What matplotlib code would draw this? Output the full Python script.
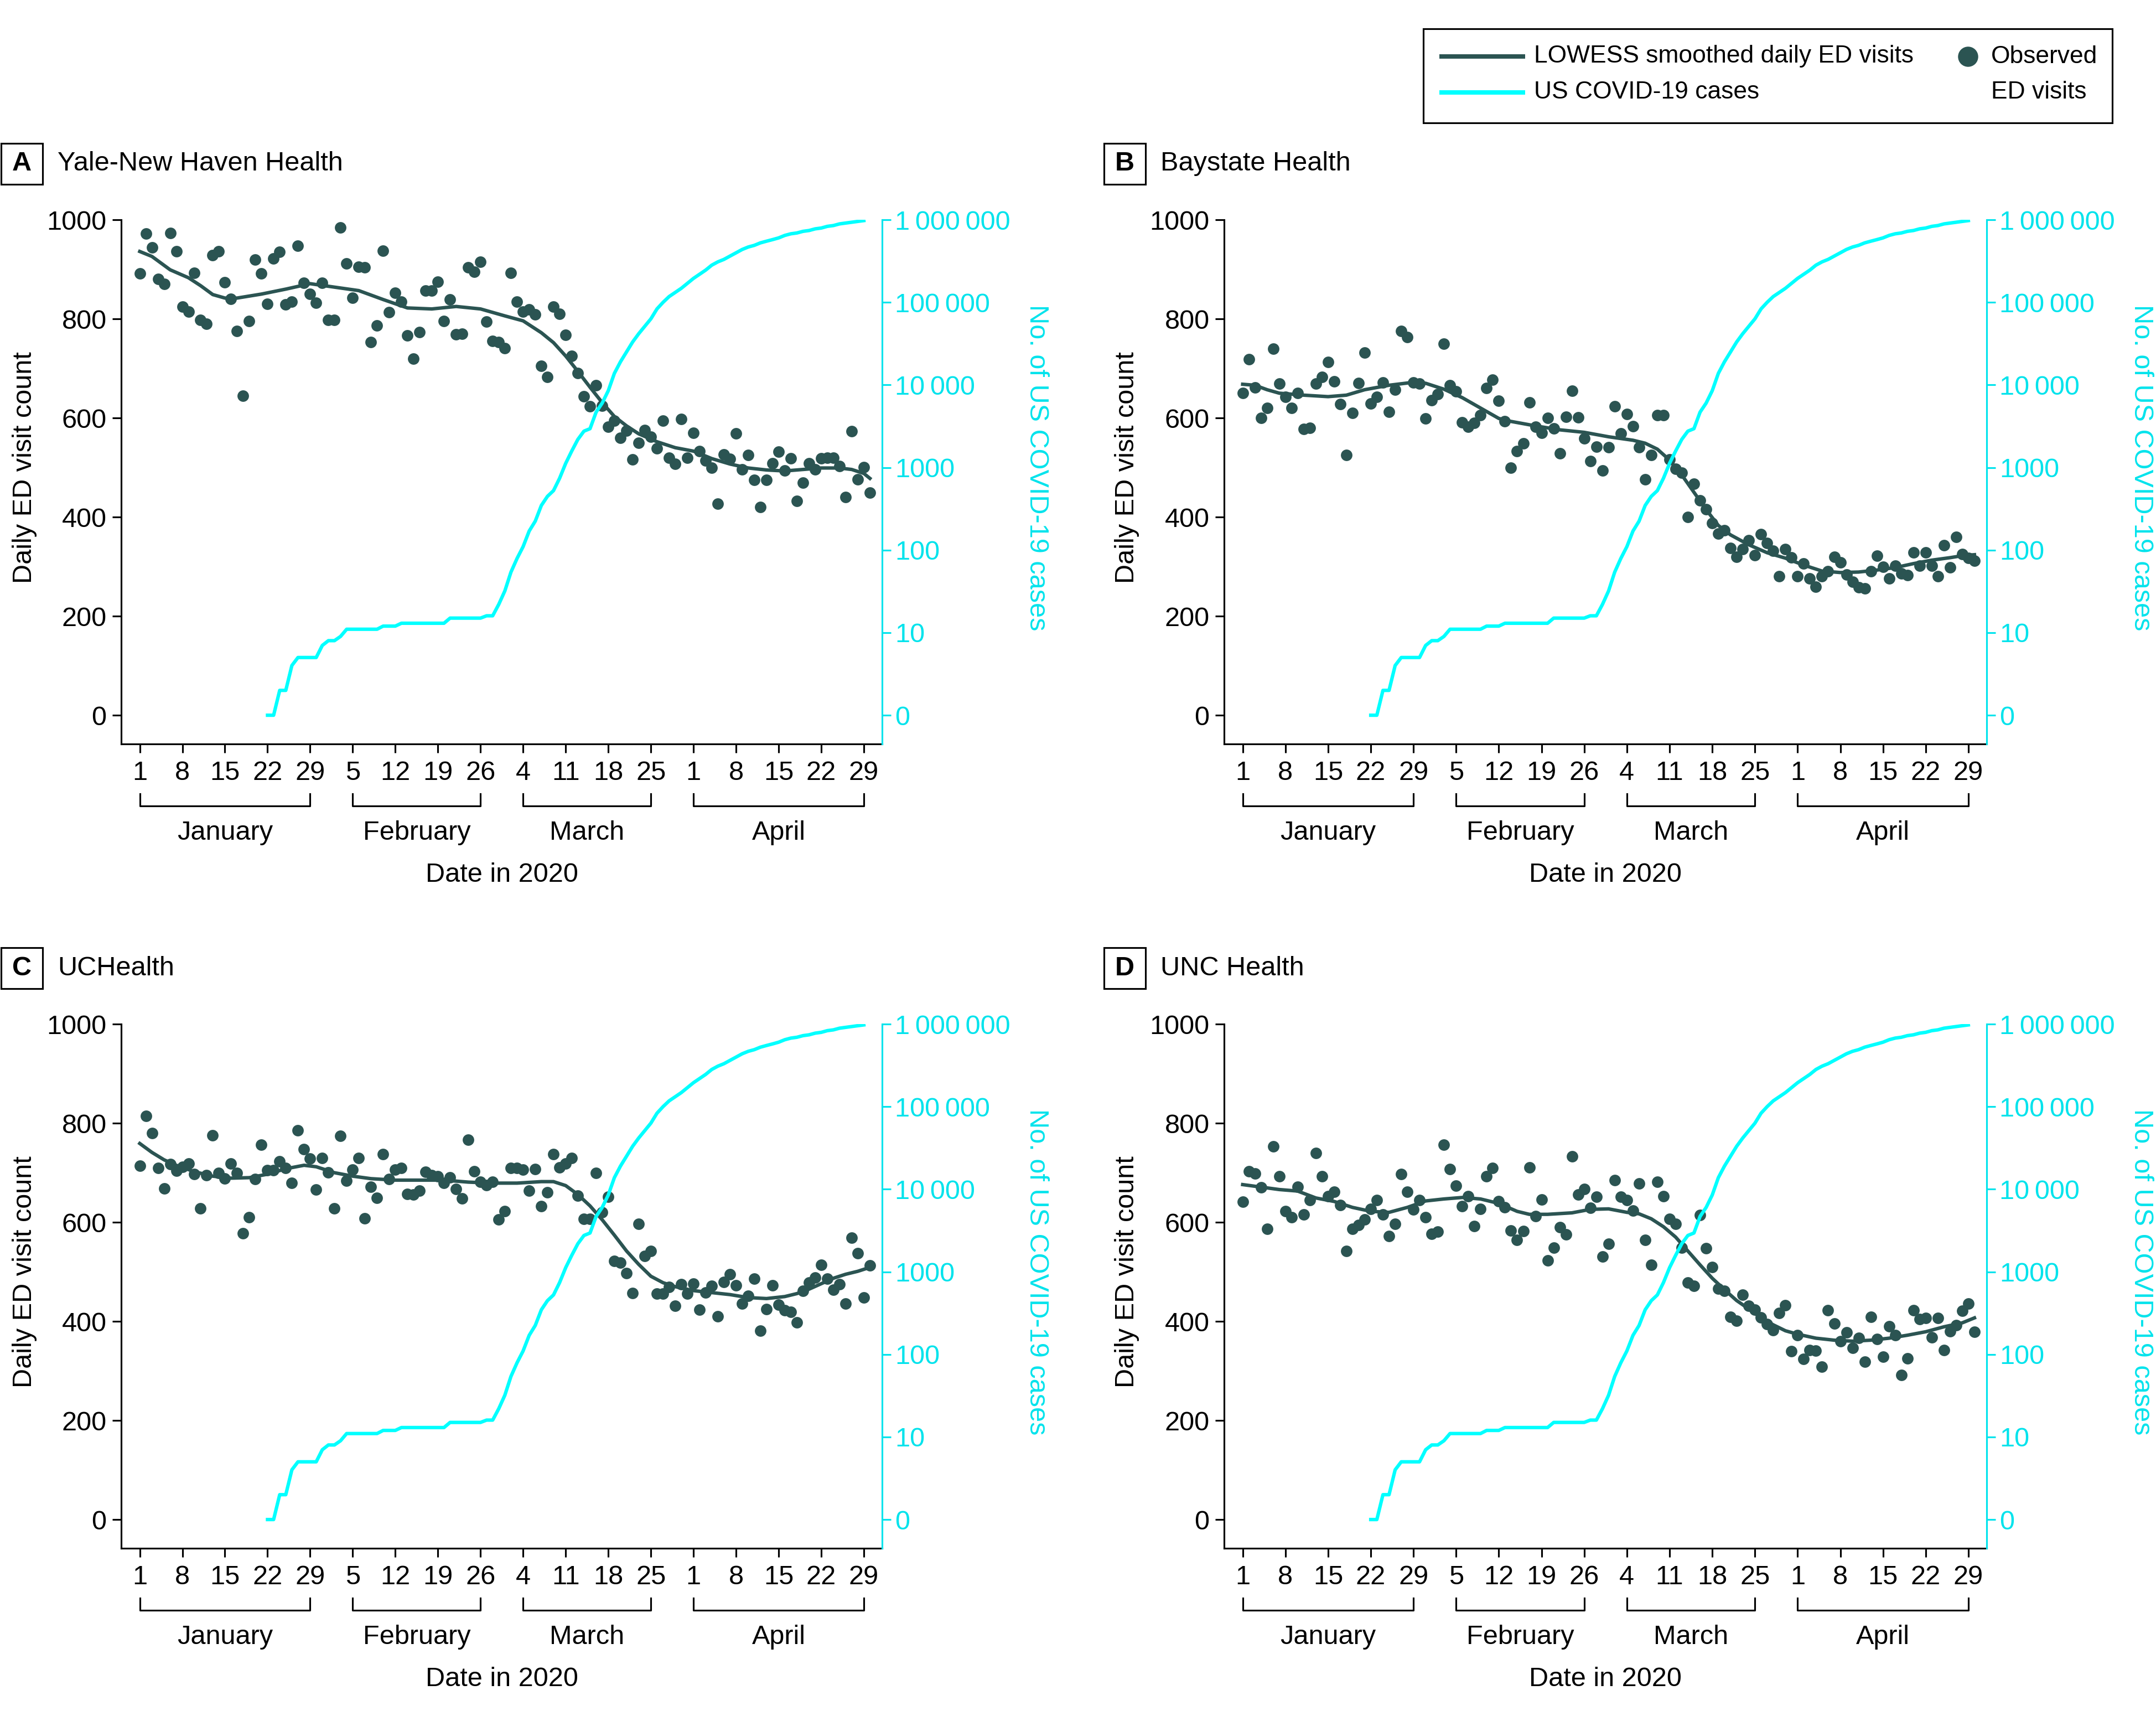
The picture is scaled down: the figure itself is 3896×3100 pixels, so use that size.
import numpy as np
import matplotlib
matplotlib.use("Agg")
import matplotlib.pyplot as plt
from matplotlib.lines import Line2D
from matplotlib.patches import Rectangle

plt.rcParams["font.family"] = ["Liberation Sans", "DejaVu Sans"]
plt.rcParams["font.size"] = 14

TEAL = "#2B5452"
CYAN = "#00FFFF"
CYAN_TXT = "#00E3EC"

# day index: 0 = Jan 1 2020 ... 120 = Apr 30 2020
days = np.arange(121)

yale_obs = [892, 972, 944, 881, 870, 973, 936, 825, 815, 893,
            798, 790, 928, 936, 874, 840, 775, 645, 796, 920,
            892, 830, 922, 935, 829, 835, 948, 873, 850, 832,
            873, 798, 798, 984, 912, 842, 905, 904, 753, 787,
            937, 813, 853, 835, 767, 720, 773, 857, 857, 875,
            795, 839, 769, 770, 904, 895, 915, 794, 755, 753,
            741, 893, 835, 815, 819, 809, 705, 683, 825, 810,
            768, 725, 690, 644, 624, 666, 625, 582, 594, 560,
            574, 516, 550, 575, 562, 539, 595, 520, 507, 598,
            520, 570, 533, 514, 499, 427, 526, 517, 569, 496,
            525, 475, 420, 475, 508, 532, 494, 519, 433, 469,
            508, 496, 519, 520, 520, 503, 440, 573, 476, 501,
            449]
baystate_obs = [650, 719, 661, 600, 620, 740, 669, 643, 620, 650,
                578, 580, 669, 683, 713, 674, 628, 525, 610, 670,
                732, 629, 643, 672, 612, 657, 775, 763, 672, 669,
                599, 636, 648, 750, 666, 654, 591, 582, 590, 606,
                660, 677, 635, 593, 500, 533, 549, 631, 582, 570,
                600, 579, 529, 602, 655, 601, 559, 513, 542, 494,
                541, 624, 569, 608, 583, 541, 476, 525, 606, 606,
                516, 497, 489, 400, 467, 434, 416, 388, 367, 373,
                337, 320, 335, 353, 323, 365, 347, 332, 280, 335,
                318, 280, 306, 276, 259, 280, 291, 320, 309, 284,
                269, 258, 256, 291, 322, 300, 276, 302, 286, 283,
                328, 302, 329, 302, 281, 343, 298, 360, 325, 317,
                312]
uchealth_obs = [714, 815, 780, 709, 668, 717, 704, 712, 718, 697,
                628, 695, 775, 700, 688, 719, 700, 578, 610, 687,
                757, 705, 705, 723, 709, 679, 786, 748, 729, 666,
                730, 701, 628, 774, 684, 706, 730, 608, 671, 649,
                737, 687, 706, 710, 657, 656, 664, 702, 695, 693,
                679, 690, 667, 648, 766, 703, 682, 675, 682, 606,
                622, 709, 709, 706, 664, 707, 632, 660, 737, 711,
                718, 730, 654, 607, 607, 699, 620, 651, 522, 519,
                497, 457, 597, 532, 542, 456, 456, 469, 431, 475,
                456, 476, 423, 458, 472, 410, 479, 495, 473, 436,
                452, 486, 381, 425, 473, 434, 422, 419, 398, 461,
                478, 488, 514, 486, 464, 475, 436, 569, 538, 448,
                513]
unc_obs = [641, 703, 698, 670, 587, 753, 693, 622, 610, 672,
           616, 645, 740, 693, 652, 661, 635, 542, 587, 594,
           606, 627, 645, 616, 572, 597, 697, 661, 626, 645,
           610, 577, 581, 757, 707, 674, 632, 653, 592, 627,
           693, 709, 642, 630, 583, 564, 582, 711, 612, 646,
           523, 549, 590, 576, 733, 656, 667, 629, 651, 531,
           557, 685, 651, 645, 624, 678, 564, 514, 682, 652,
           607, 597, 549, 478, 472, 615, 548, 509, 466, 461,
           409, 401, 454, 431, 423, 408, 395, 382, 417, 432,
           340, 372, 324, 342, 341, 308, 422, 396, 360, 378,
           346, 367, 319, 409, 364, 329, 390, 372, 292, 325,
           422, 405, 407, 368, 407, 342, 380, 392, 421, 436,
           379]

# LOWESS curves
yale_lw_days = [0, 2, 5, 8, 10, 12, 14, 16, 20, 24, 28, 32, 36, 40, 44, 48, 52, 56, 60, 63,
                66, 68, 70, 72, 74, 76, 78, 80, 82, 85, 88, 91, 94, 97, 100, 103, 106, 109,
                112, 115, 117, 119, 120]
yale_lw = [936, 926, 899, 883, 867, 849, 842, 842, 850, 860, 871, 864, 857, 839, 822, 820,
           825, 820, 806, 796, 772, 752, 725, 694, 662, 631, 603, 584, 568, 552, 540, 533,
           518, 507, 499, 495, 493, 496, 499, 499, 496, 488, 478]
baystate_lw_days = [0, 2, 4, 6, 10, 14, 17, 20, 24, 28, 30, 33, 36, 39, 42, 44, 48, 52, 56,
                    60, 64, 66, 68, 70, 72, 74, 76, 78, 80, 83, 86, 89, 92, 95, 98, 101, 104,
                    107, 110, 113, 116, 118, 120]
baystate_lw = [668, 666, 657, 650, 646, 643, 646, 657, 666, 672, 670, 658, 641, 620, 599, 593,
               584, 576, 571, 562, 555, 549, 537, 515, 485, 450, 415, 383, 364, 344, 328, 317,
               303, 291, 288, 289, 293, 298, 306, 313, 318, 322, 324]
uchealth_lw_days = [0, 2, 4, 6, 9, 12, 15, 18, 21, 24, 27, 29, 32, 35, 38, 42, 46, 50, 54, 58,
                    62, 66, 68, 70, 72, 74, 76, 78, 80, 82, 84, 86, 88, 91, 94, 97, 100, 103,
                    106, 108, 110, 112, 114, 116, 118, 120]
uchealth_lw = [759, 741, 726, 715, 702, 693, 689, 690, 697, 708, 715, 712, 700, 693, 688, 685,
               685, 685, 681, 679, 679, 682, 682, 674, 656, 633, 605, 574, 542, 515, 491, 478,
               470, 462, 458, 454, 448, 446, 450, 456, 465, 476, 487, 495, 501, 509]
unc_lw_days = [0, 3, 6, 9, 12, 15, 18, 21, 24, 27, 30, 33, 36, 39, 42, 45, 47, 50, 54, 57, 60,
               63, 65, 67, 69, 71, 73, 75, 77, 79, 81, 83, 85, 87, 89, 91, 94, 97, 100, 103,
               106, 109, 112, 115, 118, 120]
unc_lw = [676, 671, 666, 663, 649, 642, 630, 622, 620, 630, 643, 647, 650, 647, 638, 622, 616,
          616, 619, 626, 627, 620, 617, 607, 591, 570, 542, 514, 487, 464, 442, 425, 407, 393,
          381, 374, 366, 362, 360, 362, 366, 372, 379, 389, 397, 407]

# cumulative US COVID-19 cases, Jan 22 .. Apr 29
case_days = np.arange(21, 120)
us_cases = [1, 1, 2, 2, 4, 5, 5, 5, 5, 7,
            8, 8, 9, 11, 11, 11, 11, 11, 11, 12,
            12, 12, 13, 13, 13, 13, 13, 13, 13, 13,
            15, 15, 15, 15, 15, 15, 16, 16, 22, 32,
            54, 79, 110, 170, 224, 347, 447, 525, 741, 1122,
            1585, 2188, 2754, 2951, 4677, 6026, 8511, 13800, 19050, 25100,
            33100, 41700, 51300, 63100, 83200, 100000, 117500, 131800, 147900, 169800,
            195000, 218800, 245500, 281800, 309000, 331000, 363000, 398000, 436500, 467700,
            490000, 525000, 550000, 575000, 603000, 646000, 676000, 692000, 724000, 741000,
            776000, 794000, 832000, 851000, 891000, 912000, 933000, 955000, 977000]

tick_days = [0, 7, 14, 21, 28, 35, 42, 49, 56, 63, 70, 77, 84, 91, 98, 105, 112, 119]
tick_labels = ["1", "8", "15", "22", "29", "5", "12", "19", "26", "4", "11", "18", "25",
               "1", "8", "15", "22", "29"]
months = ["January", "February", "March", "April"]
month_spans = [(0, 28), (35, 56), (63, 84), (91, 119)]
case_tick_labels = ["0", "10", "100", "1000", "10\u2009000", "100\u2009000",
                    "1\u2009000\u2009000"]

W, H = 3896, 3100
fig = plt.figure(figsize=(W / 250, H / 250), dpi=250)


def rect(left, top, right, bottom):
    return [left / W, 1 - bottom / H, (right - left) / W, (bottom - top) / H]


def panel(box, letter, title, obs, lw_days, lw_vals):
    left, top, right, bottom = box
    ax = fig.add_axes(rect(left, top, right, bottom))
    ax2 = ax.twinx()

    ax.scatter(days, obs, s=36, color=TEAL, linewidths=0, zorder=3)
    ax.plot(lw_days, lw_vals, color=TEAL, lw=1.8, zorder=4)
    ax2.plot(case_days, np.log10(us_cases), color=CYAN, lw=1.8)

    ax.set_xlim(-3.05, 122.0)
    ax.set_ylim(-58, 1000)
    ax2.set_ylim(-0.348, 6)

    ax.set_yticks(range(0, 1001, 200))
    ax.set_xticks(tick_days)
    ax.set_xticklabels(tick_labels)
    ax2.set_yticks(range(7))
    ax2.set_yticklabels(case_tick_labels)

    for s in ("top", "right"):
        ax.spines[s].set_visible(False)
    for s in ("top", "left", "bottom"):
        ax2.spines[s].set_visible(False)
    for s in ("left", "bottom"):
        ax.spines[s].set_linewidth(0.9)
    ax2.spines["right"].set_color(CYAN_TXT)
    ax2.spines["right"].set_linewidth(0.9)

    ax.tick_params(axis="y", direction="out", length=4.6, width=0.9, pad=3)
    ax.tick_params(axis="x", direction="out", length=4.6, width=0.9, pad=4)
    ax2.tick_params(axis="y", direction="out", length=4.6, width=0.9, pad=2,
                    colors=CYAN_TXT)

    ax.set_ylabel("Daily ED visit count", va="center")
    ax.yaxis.set_label_coords(-0.127, 0.527)
    ax2.set_ylabel("No. of US COVID-19 cases", rotation=270, va="center", color=CYAN_TXT)
    ax2.yaxis.set_label_coords(1.203, 0.527)
    ax.set_xlabel("Date in 2020", va="center")
    ax.xaxis.set_label_coords(0.5, -0.25)

    tr = ax.get_xaxis_transform()
    for name, (d0, d1) in zip(months, month_spans):
        ax.plot([d0, d0, d1, d1], [-0.095, -0.118, -0.118, -0.095], color="black",
                lw=0.9, transform=tr, clip_on=False)
        ax.text((d0 + d1) / 2, -0.169, name, transform=tr, ha="center", va="center")

    # panel letter box and title
    bx, by = left - 217, top - 138
    fig.add_artist(Rectangle((bx / W, 1 - (by + 74) / H), 75 / W, 74 / H,
                             transform=fig.transFigure, fill=False, ec="black", lw=0.9))
    fig.text((bx + 37.5) / W, 1 - (by + 37) / H, letter, fontweight="bold",
             ha="center", va="center")
    fig.text((left - 115) / W, 1 - (by + 37) / H, title, ha="left", va="center")
    return ax


panel((219, 397, 1594, 1344), "A", "Yale-New Haven Health", yale_obs, yale_lw_days, yale_lw)
panel((2212, 397, 3590, 1344), "B", "Baystate Health", baystate_obs, baystate_lw_days, baystate_lw)
panel((219, 1850, 1594, 2797), "C", "UCHealth", uchealth_obs, uchealth_lw_days, uchealth_lw)
panel((2212, 1850, 3590, 2797), "D", "UNC Health", unc_obs, unc_lw_days, unc_lw)

# legend box
fig.add_artist(Rectangle((2572 / W, 1 - 222 / H), (3817 - 2572) / W, 170 / H,
                         transform=fig.transFigure, fill=False, ec="black", lw=0.9))
fig.add_artist(Line2D([2605 / W, 2752 / W], [1 - 102 / H] * 2, color=TEAL, lw=2.3,
                      transform=fig.transFigure))
fig.add_artist(Line2D([2605 / W, 2752 / W], [1 - 167 / H] * 2, color=CYAN, lw=2.3,
                      transform=fig.transFigure))
fig.add_artist(Line2D([3556 / W], [1 - 102 / H], marker="o", ms=9.5, color=TEAL, lw=0,
                      transform=fig.transFigure))
fig.text(2772 / W, 1 - 102 / H, "LOWESS smoothed daily ED visits", fontsize=12.8, va="center")
fig.text(2772 / W, 1 - 167 / H, "US COVID-19 cases", fontsize=12.8, va="center")
fig.text(3598 / W, 1 - 102 / H, "Observed", fontsize=12.8, va="center")
fig.text(3598 / W, 1 - 167 / H, "ED visits", fontsize=12.8, va="center")

fig.savefig("out.png", dpi=250)
plt.close(fig)
